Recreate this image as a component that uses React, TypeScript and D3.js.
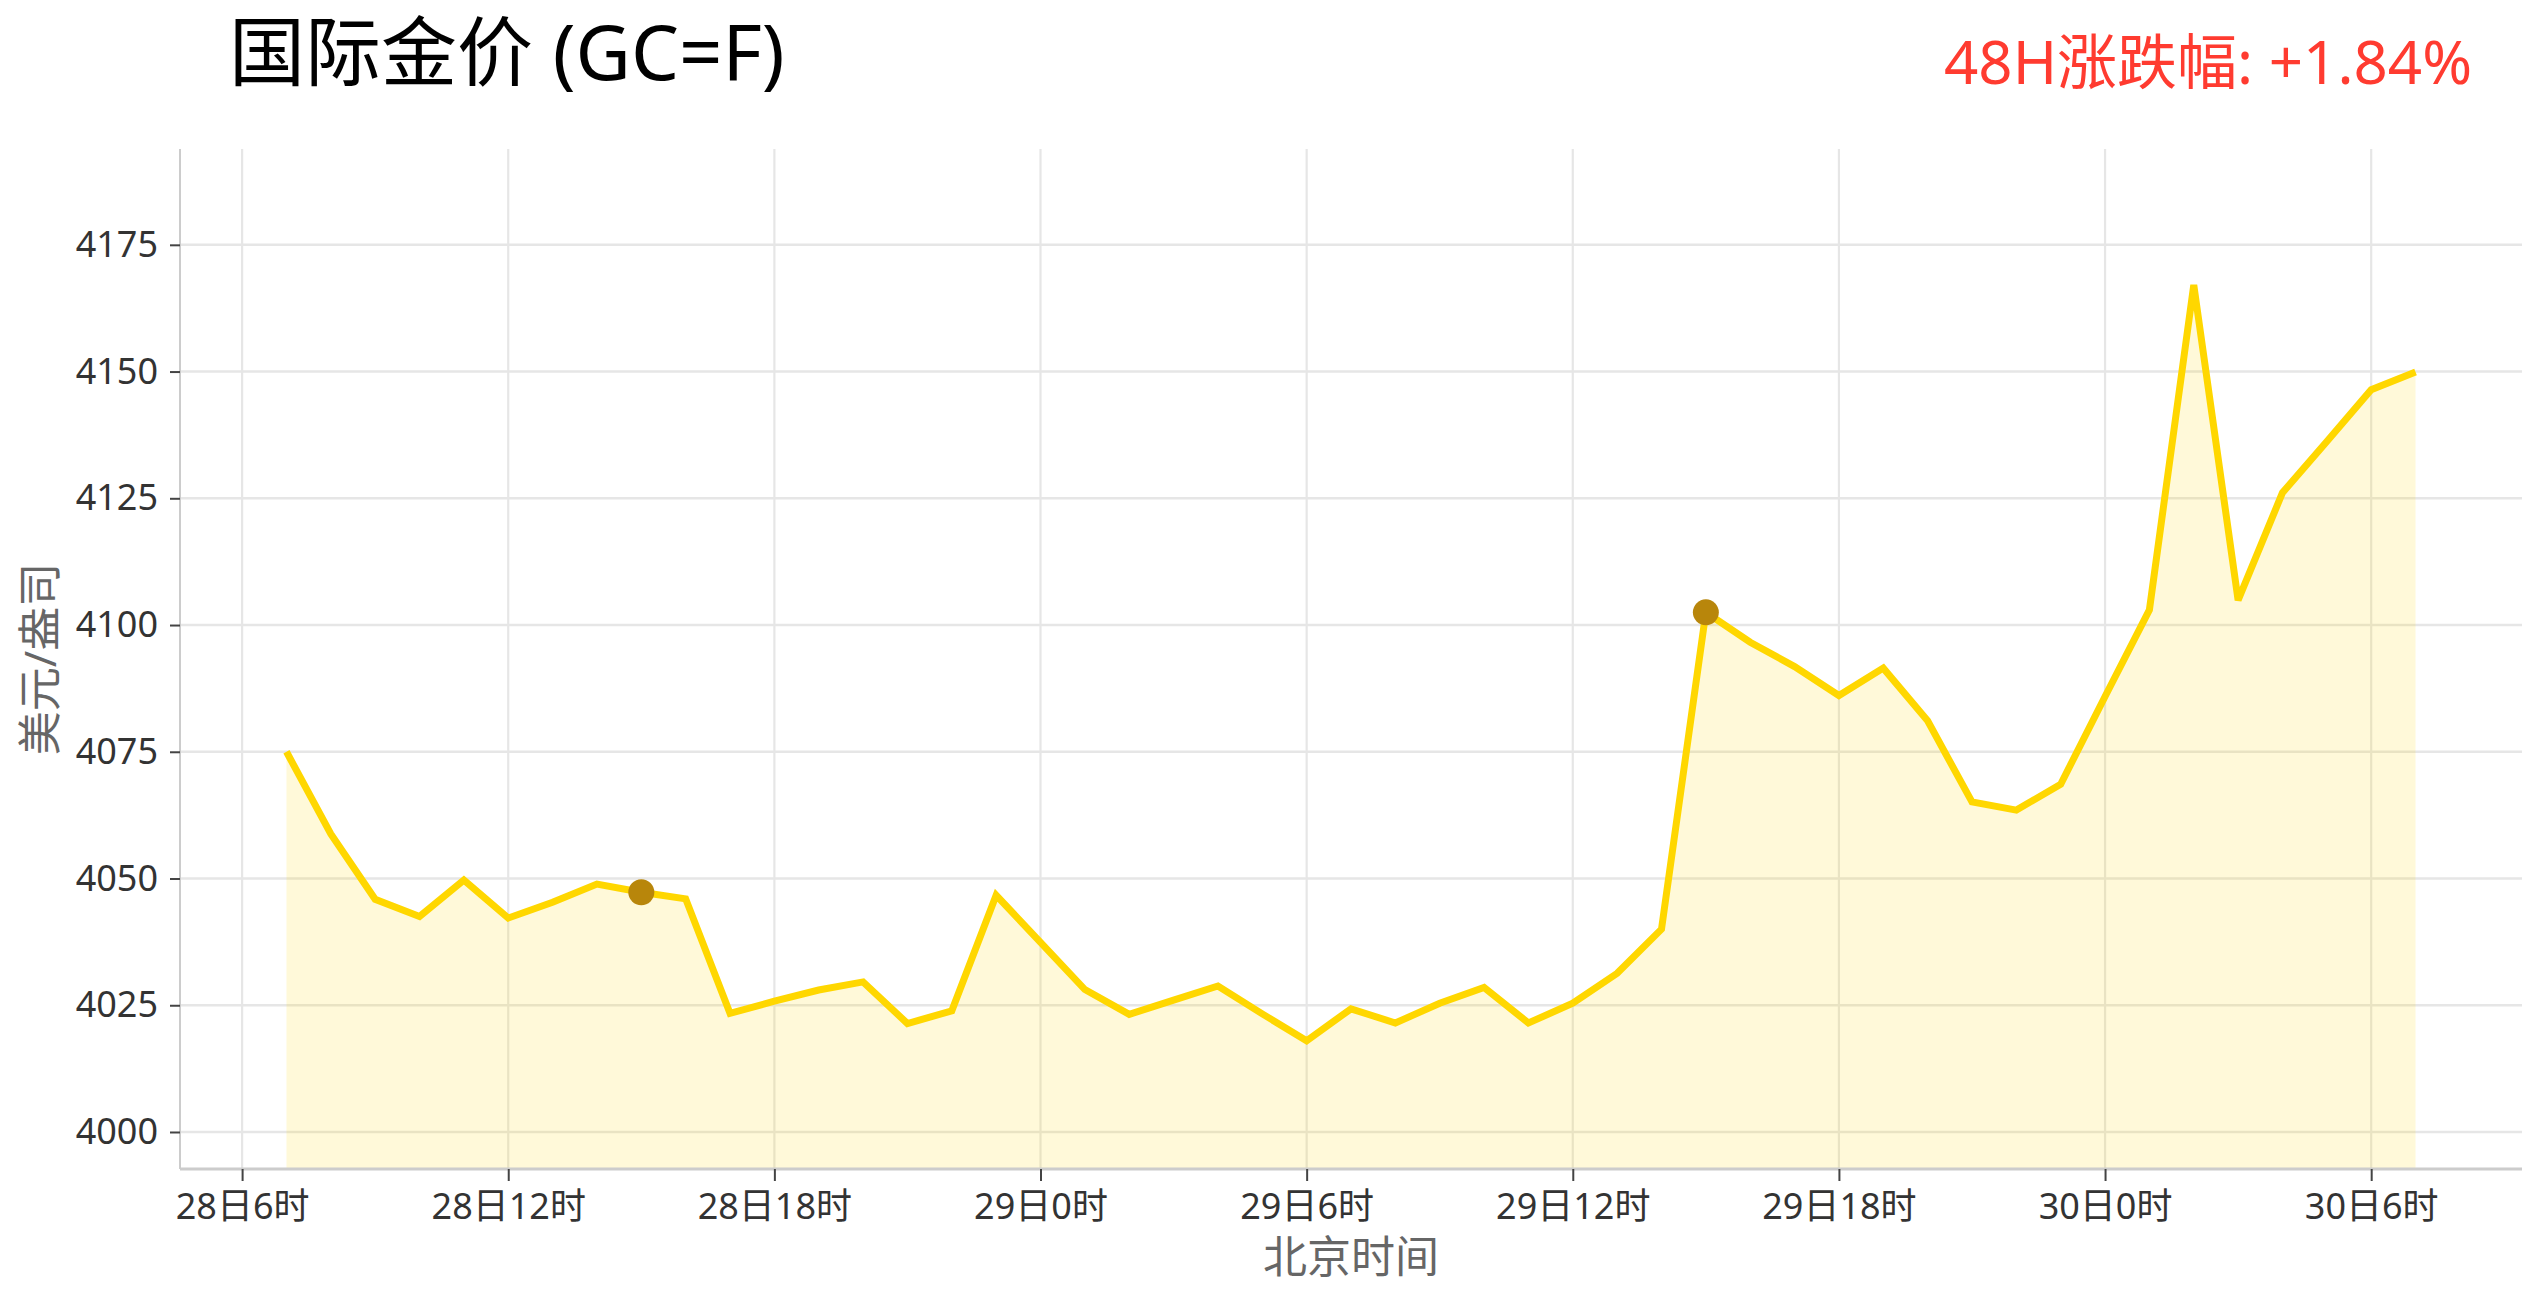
import React, { useRef, useEffect } from 'react';
import * as d3 from 'd3';

// hourly quotes, Beijing time
const times = [
  '2025-11-28 07:00', '2025-11-28 08:00', '2025-11-28 09:00', '2025-11-28 10:00',
  '2025-11-28 11:00', '2025-11-28 12:00', '2025-11-28 13:00', '2025-11-28 14:00',
  '2025-11-28 15:00', '2025-11-28 16:00', '2025-11-28 17:00', '2025-11-28 18:00',
  '2025-11-28 19:00', '2025-11-28 20:00', '2025-11-28 21:00', '2025-11-28 22:00',
  '2025-11-28 23:00', '2025-11-29 00:00', '2025-11-29 01:00', '2025-11-29 02:00',
  '2025-11-29 03:00', '2025-11-29 04:00', '2025-11-29 05:00', '2025-11-29 06:00',
  '2025-11-29 07:00', '2025-11-29 08:00', '2025-11-29 09:00', '2025-11-29 10:00',
  '2025-11-29 11:00', '2025-11-29 12:00', '2025-11-29 13:00', '2025-11-29 14:00',
  '2025-11-29 15:00', '2025-11-29 16:00', '2025-11-29 17:00', '2025-11-29 18:00',
  '2025-11-29 19:00', '2025-11-29 20:00', '2025-11-29 21:00', '2025-11-29 22:00',
  '2025-11-29 23:00', '2025-11-30 00:00', '2025-11-30 01:00', '2025-11-30 02:00',
  '2025-11-30 03:00', '2025-11-30 04:00', '2025-11-30 05:00', '2025-11-30 06:00',
  '2025-11-30 07:00',
];

const prices = [
  4075.0, 4058.8, 4045.9, 4042.5, 4049.7, 4042.2, 4045.3, 4048.9,
  4047.3, 4046.0, 4023.4, 4025.8, 4028.0, 4029.6, 4021.4, 4023.9,
  4046.7, 4037.4, 4028.1, 4023.2, 4026.0, 4028.8, 4023.3, 4018.0,
  4024.3, 4021.5, 4025.4, 4028.5, 4021.5, 4025.4, 4031.3, 4040.0,
  4102.5, 4096.6, 4091.8, 4086.1, 4091.5, 4081.1, 4065.1, 4063.5,
  4068.6, 4085.9, 4103.0, 4167.1, 4104.9, 4126.1, 4136.2, 4146.4,
  4149.9,
];

// highlighted points
const markedTimes = ['2025-11-28 15:00', '2025-11-29 15:00'];

const yTicks = [4000, 4025, 4050, 4075, 4100, 4125, 4150, 4175];

const title = '国际金价 (GC=F)';
const changeLabel = '48H涨跌幅: +1.84%';
const xLabel = '北京时间';
const yLabel = '美元/盎司';

const W = 2541;
const H = 1302;
const FONT = "'Noto Sans', 'Noto Sans CJK SC', sans-serif";

const App: React.FC = () => {
  const svgRef = useRef<SVGSVGElement | null>(null);

  useEffect(() => {
    const svg = d3.select(svgRef.current);
    svg.selectAll('*').remove();

    const left = 180, right = 2522, top = 149, bottom = 1169;

    const parse = d3.utcParse('%Y-%m-%d %H:%M');
    const data = times.map((t, i) => ({ t: parse(t) as Date, v: prices[i] }));

    // 5% padding on the time axis
    const [t0, t1] = d3.extent(data, d => d.t) as [Date, Date];
    const pad = (t1.getTime() - t0.getTime()) * 0.05;
    const x = d3.scaleUtc()
      .domain([new Date(t0.getTime() - pad), new Date(t1.getTime() + pad)])
      .range([left, right]);

    const y = d3.scaleLinear()
      .domain([3992.7, 4193.9])
      .range([bottom, top]);

    const xTicks = x.ticks(d3.utcHour.every(6) as d3.TimeInterval);

    // grid
    svg.append('g')
      .selectAll('line')
      .data(yTicks)
      .join('line')
      .attr('x1', left).attr('x2', right)
      .attr('y1', d => y(d)).attr('y2', d => y(d))
      .attr('stroke', '#e6e6e6').attr('stroke-width', 2.6);

    svg.append('g')
      .selectAll('line')
      .data(xTicks)
      .join('line')
      .attr('x1', d => x(d)).attr('x2', d => x(d))
      .attr('y1', top).attr('y2', bottom)
      .attr('stroke', '#e6e6e6').attr('stroke-width', 2.2);

    // area + line
    const area = d3.area<{ t: Date; v: number }>()
      .x(d => x(d.t))
      .y0(bottom)
      .y1(d => y(d.v));

    svg.append('path')
      .datum(data)
      .attr('fill', '#FFD700')
      .attr('fill-opacity', 0.15)
      .attr('d', area);

    const line = d3.line<{ t: Date; v: number }>()
      .x(d => x(d.t))
      .y(d => y(d.v));

    svg.append('path')
      .datum(data)
      .attr('fill', 'none')
      .attr('stroke', '#FFD700')
      .attr('stroke-width', 7)
      .attr('stroke-linejoin', 'miter')
      .attr('stroke-miterlimit', 3)
      .attr('d', line);

    const marked = data.filter((d, i) => markedTimes.includes(times[i]));
    svg.append('g')
      .selectAll('circle')
      .data(marked)
      .join('circle')
      .attr('cx', d => x(d.t))
      .attr('cy', d => y(d.v))
      .attr('r', 13)
      .attr('fill', '#B8860B');

    // axes
    const yAxis = svg.append('g')
      .attr('transform', `translate(${left},0)`)
      .call(d3.axisLeft(y).tickValues(yTicks).tickSize(10).tickPadding(12).tickFormat(d3.format('d')));
    yAxis.select('.domain').attr('stroke', '#cccccc').attr('stroke-width', 2)
      .attr('d', `M0,${top}V${bottom}`);
    yAxis.selectAll('.tick line').attr('stroke', '#444').attr('stroke-width', 2);
    yAxis.selectAll('.tick text')
      .attr('fill', '#333').attr('font-size', 36).attr('font-family', FONT);

    const fmt = (d: Date) => `${d.getUTCDate()}日${d.getUTCHours()}时`;
    const xAxis = svg.append('g')
      .attr('transform', `translate(0,${bottom})`)
      .call(d3.axisBottom(x).tickValues(xTicks).tickSize(12).tickPadding(12)
        .tickFormat(d => fmt(d as Date)));
    xAxis.select('.domain').attr('stroke', '#cccccc').attr('stroke-width', 3)
      .attr('d', `M${left},0H${right}`);
    xAxis.selectAll('.tick line').attr('stroke', '#444').attr('stroke-width', 2);
    xAxis.selectAll('.tick text')
      .attr('fill', '#333').attr('font-size', 36).attr('font-family', FONT);

    // labels
    svg.append('text')
      .attr('x', (left + right) / 2).attr('y', 1273)
      .attr('text-anchor', 'middle')
      .attr('font-size', 44).attr('font-family', FONT).attr('fill', '#666')
      .text(xLabel);

    svg.append('text')
      .attr('transform', `translate(56,${(top + bottom) / 2}) rotate(-90)`)
      .attr('text-anchor', 'middle')
      .attr('font-size', 44).attr('font-family', FONT).attr('fill', '#666')
      .text(yLabel);

    svg.append('text')
      .attr('x', 229).attr('y', 80)
      .attr('font-size', 76).attr('font-family', FONT).attr('fill', '#000')
      .text(title);

    svg.append('text')
      .attr('x', 2472).attr('y', 84)
      .attr('text-anchor', 'end')
      .attr('font-size', 60).attr('font-family', FONT).attr('fill', '#FF3B30')
      .text(changeLabel);
  }, []);

  return (
    <>
      <style>{'body{margin:0;overflow:hidden;background:#fff}'}</style>
      <svg ref={svgRef} width={W} height={H} style={{ display: 'block' }}></svg>
    </>
  );
};

export default App;
